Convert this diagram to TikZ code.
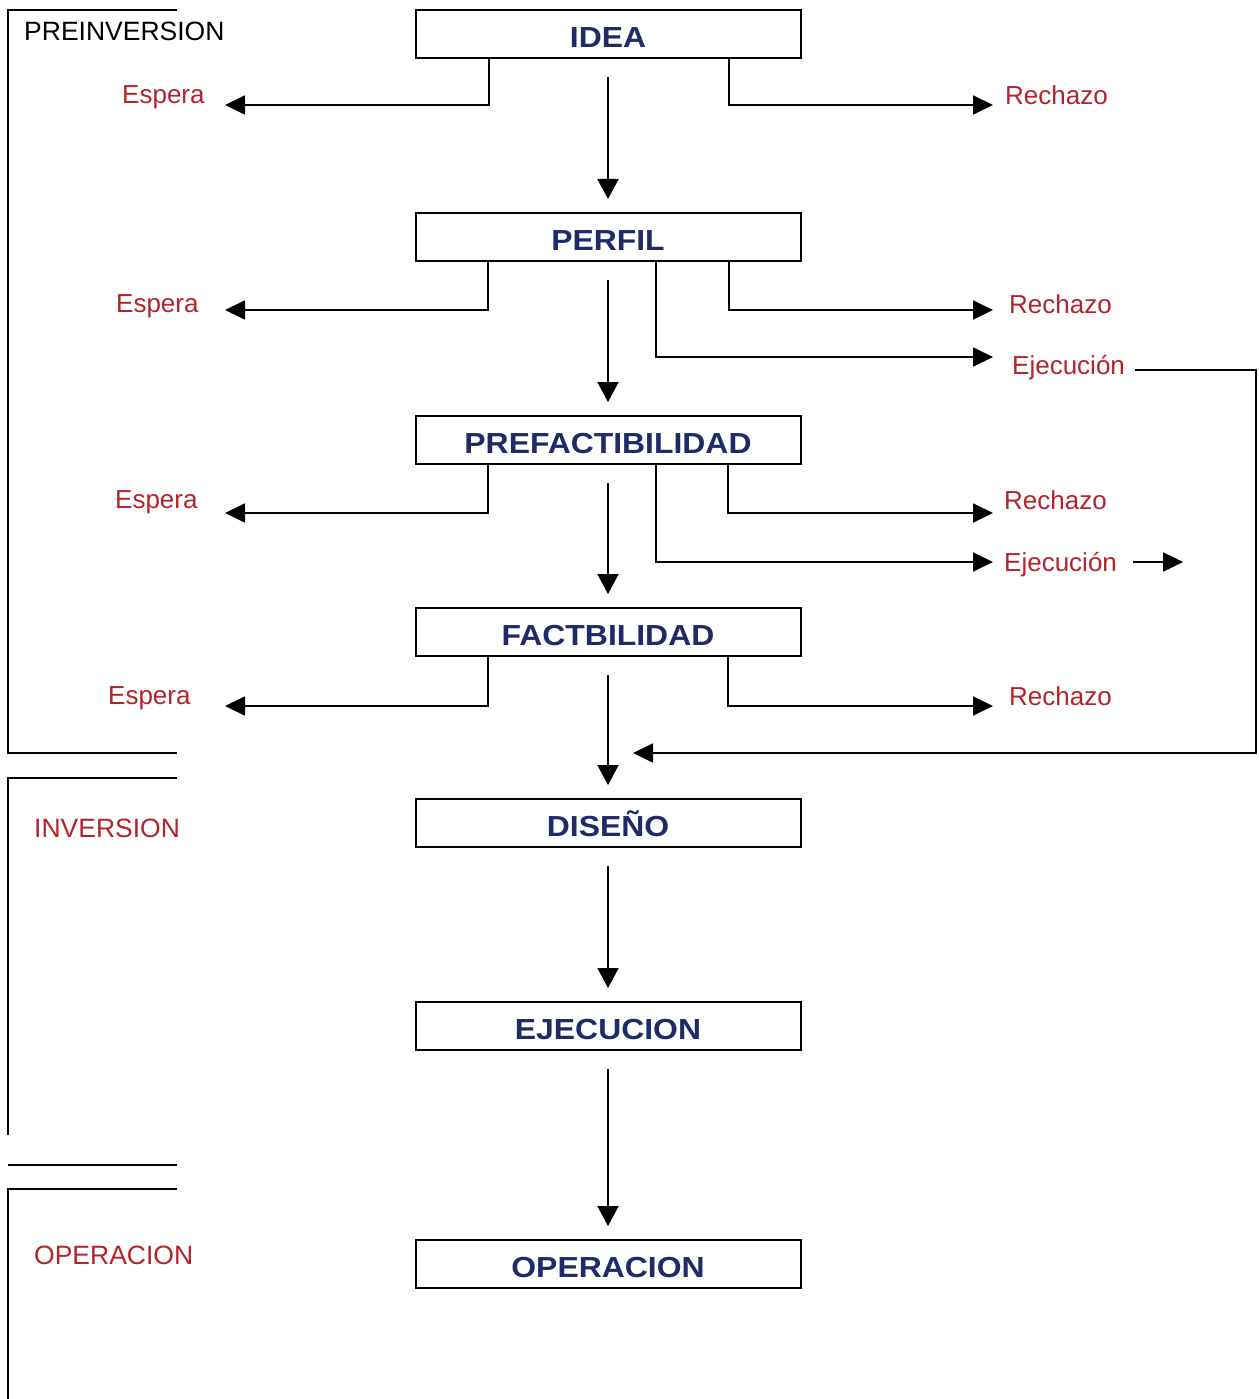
\documentclass[tikz,border=0pt]{standalone}
\usepackage{fontspec}
\setmainfont{Liberation Sans}
\newfontfamily\boxfont{Liberation Sans}[FakeStretch=1.1]
\usetikzlibrary{arrows.meta}
\definecolor{BoxBlue}{RGB}{31,43,104}
\definecolor{LabelRed}{RGB}{180,35,42}

\begin{document}
\begin{tikzpicture}
    [x=1pt,y=-1pt,
    StageBox/.style={draw,line width=2pt,minimum width=385pt,minimum height=48pt,inner sep=0pt,
        text height=27pt,text depth=0pt,
        text=BoxBlue,font=\boxfont\bfseries\fontsize{29}{29}\selectfont},
    flow arrow/.style={line width=1.8pt,-{Triangle[length=20pt,width=21pt]},shorten <=18pt,shorten >=13pt},
    branch line/.style={line width=1.8pt,-{Triangle[length=20pt,width=19pt]}},
    branch label/.style={anchor=base west,inner sep=0pt,text=LabelRed,font=\fontsize{26}{26}\selectfont},
    phase line/.style={line width=1.8pt},
    phase label/.style={anchor=base west,inner sep=0pt,font=\fontsize{26.5}{26.5}\selectfont},
    ]
    \useasboundingbox (0,0) rectangle (1258,1399);

    %stages
    \node[StageBox] (Idea) at (608,34) {IDEA};
    \node[StageBox] (Perfil) at (608,237) {PERFIL};
    \node[StageBox] (Prefact) at (608,440) {PREFACTIBILIDAD};
    \node[StageBox] (Fact) at (608,632) {FACTBILIDAD};
    \node[StageBox] (Diseno) at (608,823) {DISEÑO};
    \node[StageBox] (Ejecucion) at (608,1026) {EJECUCION};
    \node[StageBox] (Operacion) at (608,1264) {OPERACION};

    \draw[flow arrow] (Idea) -- (Perfil);
    \draw[flow arrow] (Perfil) -- (Prefact);
    \draw[flow arrow] (Prefact) -- (Fact);
    \draw[flow arrow] (Fact) -- (Diseno);
    \draw[flow arrow] (Diseno) -- (Ejecucion);
    \draw[flow arrow] (Ejecucion) -- (Operacion);

    %idea
    \coordinate (EsperaTipA) at (225,105);
    \coordinate (RechazoTipA) at (993,105);
    \node[branch label] (EsperaA) at (122,104) {Espera};
    \node[branch label] (RechazoA) at (1005,105) {Rechazo};
    \draw[branch line] (Idea.south) ++(-119,0) |- (EsperaTipA);
    \draw[branch line] (Idea.south) ++(121,0) |- (RechazoTipA);

    %perfil
    \coordinate (EsperaTipB) at (225,310);
    \coordinate (RechazoTipB) at (993,310);
    \coordinate (EjecTipB) at (993,357);
    \coordinate (LoopTip) at (633,753);
    \node[branch label] (EsperaB) at (116,312) {Espera};
    \node[branch label] (RechazoB) at (1009,313) {Rechazo};
    \node[branch label] (EjecB) at (1012,374) {Ejecución};
    \draw[branch line] (Perfil.south) ++(-120,0) |- (EsperaTipB);
    \draw[branch line] (Perfil.south) ++(121,0) |- (RechazoTipB);
    \draw[branch line] (Perfil.south) ++(48,0) |- (EjecTipB);
    \draw[branch line] ([xshift=10pt,yshift=4pt]EjecB.base east) -- (1256,370) |- (LoopTip);

    %prefactibilidad
    \coordinate (EsperaTipC) at (225,513);
    \coordinate (RechazoTipC) at (993,513);
    \coordinate (EjecTipC) at (993,562);
    \node[branch label] (EsperaC) at (115,508) {Espera};
    \node[branch label] (RechazoC) at (1004,509) {Rechazo};
    \node[branch label] (EjecC) at (1004,571) {Ejecución};
    \draw[branch line] (Prefact.south) ++(-120,0) |- (EsperaTipC);
    \draw[branch line] (Prefact.south) ++(120,0) |- (RechazoTipC);
    \draw[branch line] (Prefact.south) ++(48,0) |- (EjecTipC);
    \draw[branch line] ([xshift=16pt,yshift=9pt]EjecC.base east) -- +(50,0);

    %factibilidad
    \coordinate (EsperaTipD) at (225,706);
    \coordinate (RechazoTipD) at (993,706);
    \node[branch label] (EsperaD) at (108,704) {Espera};
    \node[branch label] (RechazoD) at (1009,705) {Rechazo};
    \draw[branch line] (Fact.south) ++(-120,0) |- (EsperaTipD);
    \draw[branch line] (Fact.south) ++(120,0) |- (RechazoTipD);

    %phases
    \draw[phase line] (177,10) -- (8,10) -- (8,753) -- (177,753);
    \node[phase label] (Preinversion) at (24,41) {PREINVERSION};
    \draw[phase line] (177,778) -- (8,778) -- (8,1135);
    \draw[phase line] (8,1165) -- (177,1165);
    \node[phase label,text=LabelRed] (Inversion) at (34,837) {INVERSION};
    \draw[phase line] (177,1189) -- (8,1189) -- (8,1399);
    \node[phase label,text=LabelRed] (OperacionFase) at (34,1264) {OPERACION};

\end{tikzpicture}
\end{document}
